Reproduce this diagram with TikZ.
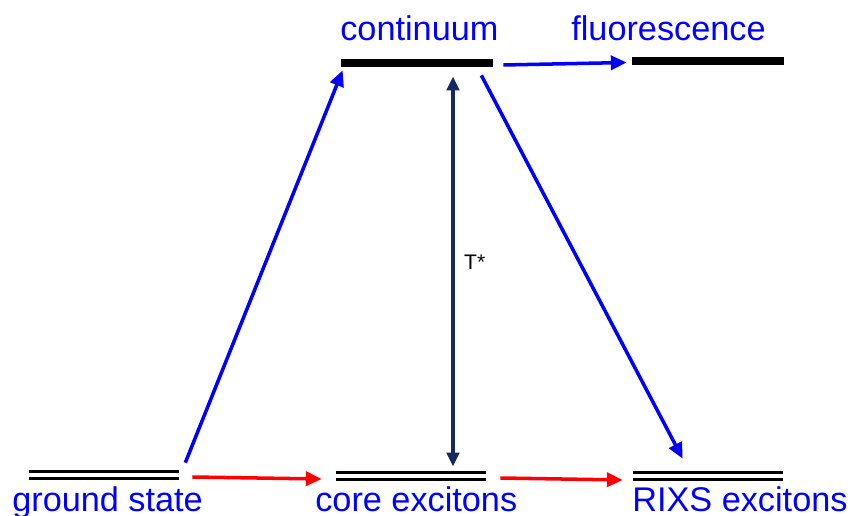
\documentclass[tikz,border=0pt]{standalone}
\usepackage{fontspec}
\setmainfont{Liberation Sans}
\usepackage{tikz}
\usetikzlibrary{calc, arrows.meta}

\definecolor{navy}{RGB}{20,40,100}

\begin{document}
\begin{tikzpicture}[
        x=0.02cm, y=-0.02cm,
        level/.style={minimum width=3cm, minimum height=0.12cm, inner sep=0pt},
        band/.style={rectangle, fill=black, minimum width=3.04cm, minimum height=0.16cm, inner sep=0pt},
        line_2/.style={line width=1.5pt, draw=black},
        name_lbl/.style={text=blue, font=\fontsize{19.5}{20}\selectfont, inner sep=0pt, anchor=base west},
        blue_arrow/.style={-{Triangle[length=9pt, width=8pt]}, line width=2pt, draw=blue},
        red_arrow/.style={-{Triangle[length=9pt, width=8pt]}, line width=2pt, draw=red},
        navy_arrow/.style={{Triangle[length=8pt, width=7pt]}-{Triangle[length=8pt, width=7pt]}, line width=2pt, draw=navy}
    ]
        \useasboundingbox (0,0) rectangle (855,516);

        % --- NODES ---
        \node[level] (ground) at (104,475) {};
        \node[level] (core) at (411,476) {};
        \node[level] (rixs) at (708,476) {};
        \node[band] (continuum) at (417,63) {};
        \node[band] (fluor) at (708,61.5) {};

        \draw[line_2] (ground.north west) -- (ground.north east);
        \draw[line_2] (ground.south west) -- (ground.south east);
        \draw[line_2] (core.north west) -- (core.north east);
        \draw[line_2] (core.south west) -- (core.south east);
        \draw[line_2] (rixs.north west) -- (rixs.north east);
        \draw[line_2] (rixs.south west) -- (rixs.south east);

        % --- LABELS ---
        \node[name_lbl] (ground_lbl) at (12,511) {ground state};
        \node[name_lbl] (core_lbl) at (315,511) {core excitons};
        \node[name_lbl] (rixs_lbl) at (632,511) {RIXS excitons};
        \node[name_lbl] (cont_lbl) at (340,41) {continuum};
        \node[name_lbl] (fluor_lbl) at (571,41) {fluorescence};

        % --- CONNECTIONS ---
        \draw[blue_arrow] ($(ground.north east)+(6,-9)$) -- ($(continuum.south west)+(2,3)$);
        \draw[red_arrow] ($(ground.east)+(13,2)$) -- ($(core.west)+(-14,3)$);
        \draw[red_arrow] ($(core.east)+(14,2)$) -- ($(rixs.west)+(-10,4)$);
        \draw[blue_arrow] ($(continuum.east)+(10,2)$) -- ($(fluor.west)+(-5,1)$);
        \draw[blue_arrow] ($(continuum.south east)+(-12,8)$) -- ($(rixs.north west)+(50,-14)$);
        \draw[navy_arrow] ($(continuum.south)+(36,9)$) -- node[right, black, font=\fontsize{12}{14}\selectfont, xshift=2pt, yshift=5pt] {T*} ($(core.north)+(42,-6)$);

    \end{tikzpicture}
\end{document}
